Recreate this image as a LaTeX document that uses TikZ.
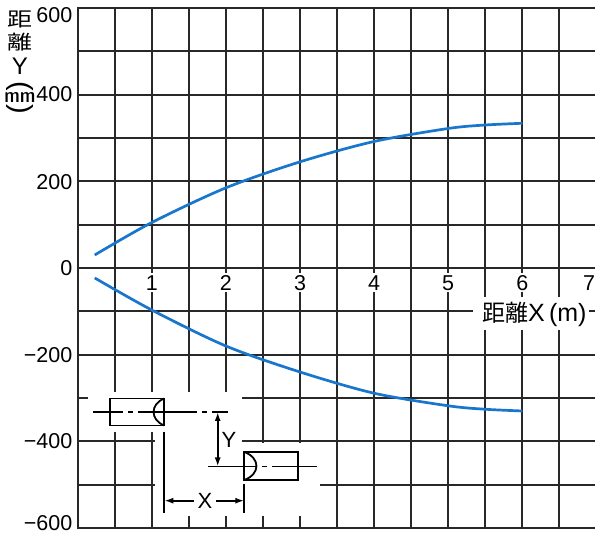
\documentclass[tikz,border=0pt]{standalone}
\usepackage{fontspec}
\setmainfont{Liberation Sans}
\newfontfamily\cjk{Noto Sans CJK JP}
\usetikzlibrary{arrows.meta}
\definecolor{gridc}{RGB}{40,40,40}
\definecolor{curvec}{RGB}{25,118,205}
\tikzset{
  gridline/.style={draw=gridc, line width=1.8pt, line cap=rect},
  curveline/.style={draw=curvec, line width=2.7pt},
  insetline/.style={draw=black, line width=1.8pt},
  ticklab/.style={font=\fontsize{21.5}{21.5}\selectfont, inner sep=0pt, text=black, text height=15.4pt, text depth=0pt},
  xlab/.style={ticklab, fill=white, inner xsep=1pt, inner ysep=2pt},
  ylab/.style={ticklab, anchor=east},
  masking/.style={fill=white, draw=none},
  dimlab/.style={font=\fontsize{22}{22}\selectfont, inner xsep=3.5pt, inner ysep=0pt, text height=15.8pt, text depth=0pt},
  dimarrow/.style={insetline, -{Latex[length=9pt,width=6pt]}},
  titlefont/.style={inner sep=0pt, text=black},
}
\begin{document}
\begin{tikzpicture}[x=1pt,y=-1pt]
\useasboundingbox (0,0) rectangle (595,534);
\fill[white] (0,0) rectangle (595,534);
\begin{scope}
\clip (0,0) rectangle (595,534);
% ---------- grid in data coordinates ----------
\begin{scope}[shift={(77.7,268)}, x=74.1pt, y=0.4333pt]
  \foreach \m in {0,0.5,...,7.0} \draw[gridline] (\m,-600) -- (\m,600);
  \foreach \v in {-600,-500,...,600} \draw[gridline] (0,\v) -- (7.3,\v);
\end{scope}
% ---------- white areas behind the inset sketch ----------
\fill[masking] (88,392) rectangle (241.7,432);
\fill[masking] (155,432) rectangle (241.7,516);
\fill[masking] (241.7,443) rectangle (320,516);
% ---------- curves and x tick labels ----------
\begin{scope}[shift={(77.7,268)}, x=74.1pt, y=0.4333pt]
  \draw[curveline] plot[smooth] coordinates {(0.23,30) (1,105) (2,185) (3,245) (4,292) (5,322) (5.5,330) (6,334)};
  \draw[curveline] plot[smooth] coordinates {(0.23,-23) (1,-97) (2,-180) (3,-240) (4,-289) (5,-318) (5.5,-326) (6,-330)};
  \foreach \m in {1,...,6} \node[xlab] (xt\m) at (\m,-33.5) {\m};
  \node[xlab] (xt7) at (6.90,-33.5) {7};
\end{scope}
% ---------- y tick labels ----------
\node[ylab] (y600) at (72.5,15) {600};
\node[ylab] (y400) at (72.5,94) {400};
\node[ylab] (y200) at (72.5,181.4) {200};
\node[ylab] (y0) at (72.5,268) {0};
\node[ylab] (ym200) at (72.5,354.6) {−200};
\node[ylab] (ym400) at (72.5,440.5) {−400};
\node[ylab] (ym600) at (72.5,522.5) {−600};
% ---------- axis titles ----------
\node[titlefont] (yt1) at (20,19) {\scalebox{1}[0.78]{\fontsize{25}{25}\cjk 距}};
\node[titlefont] (yt2) at (20,42) {\scalebox{1}[0.78]{\fontsize{25}{25}\cjk 離}};
\node[titlefont, font=\fontsize{24}{24}\selectfont] (yt3) at (20,66.5) {Y};
\node[titlefont, rotate=-90, font=\fontsize{29}{29}\selectfont] (yt4) at (20,86.5) {(};
\node[titlefont] (yt5) at (20,97.5) {\scalebox{1.3}[0.75]{\fontsize{24}{24}\cjk ㎜}};
\node[titlefont, rotate=-90, font=\fontsize{29}{29}\selectfont] (yt6) at (20,109.5) {)};
\fill[masking] (473,297) rectangle (589,330);
\node[titlefont, anchor=west] (xtitle) at (482,314) {{\fontsize{23}{23}\cjk 距離}{\fontsize{25}{25}\selectfont X\,(m)}};
% ---------- inset sketch ----------
% unit 1
\draw[insetline] (110,398.5) rectangle (164.3,425.5);
\draw[insetline] (164.3,398.5) .. controls (150,404) and (150,420) .. (164.3,425.5);
\draw[insetline] (93,412) -- (123,412) (128,412) -- (133,412) (138,412) -- (197,412)
                 (202,412) -- (207,412) (212,412) -- (228,412);
% unit 2
\draw[insetline] (244.3,452) rectangle (298.3,480);
\draw[insetline] (244.3,452) .. controls (260.5,458) and (260.5,474) .. (244.3,480);
\draw[insetline] (208,466.5) -- (257,466.5) (262,466.5) -- (267,466.5) (272,466.5) -- (317,466.5);
% Y dimension
\coordinate (ytop) at (217.7,412);
\coordinate (ybot) at (217.7,466.5);
\draw[insetline, {Latex[length=9pt,width=6pt]}-{Latex[length=9pt,width=6pt]}] (ytop) -- (ybot);
\node[dimlab, anchor=west, inner xsep=0pt] (ylabel) at (221.5,440) {Y};
% X dimension
\coordinate (xe1a) at (164.3,432);
\coordinate (xe1b) at (164.3,513.5);
\coordinate (xe2a) at (244.3,484.5);
\coordinate (xe2b) at (244.3,513.5);
\draw[insetline] (xe1a) -- (xe1b);
\draw[insetline] (xe2a) -- (xe2b);
\node[dimlab] (xlabel) at (205,500.7) {X};
\coordinate (xl) at (164.3,500.7);
\coordinate (xr) at (244.3,500.7);
\draw[dimarrow] (xlabel.west) -- (xl);
\draw[dimarrow] (xlabel.east) -- (xr);
\end{scope}
\end{tikzpicture}
\end{document}
